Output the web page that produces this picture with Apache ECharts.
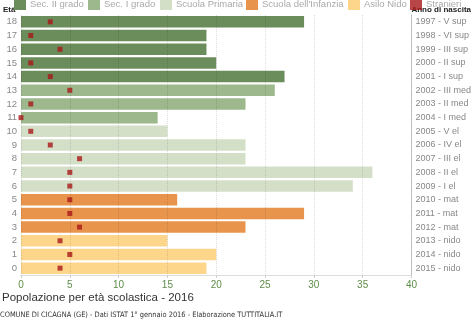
<!DOCTYPE html>
<html><head><meta charset="utf-8">
<script src="https://cdn.jsdelivr.net/npm/echarts@6/dist/echarts.min.js"></script>
<style>html,body{margin:0;padding:0;background:#fff}#c{width:474px;height:326px}</style>
</head><body><div id="c"></div>
<script>
const ages = ['0','1','2','3','4','5','6','7','8','9','10','11','12','13','14','15','16','17','18'];
const birthLabels = ['2015 - nido','2014 - nido','2013 - nido','2012 - mat','2011 - mat','2010 - mat','2009 - I el','2008 - II el','2007 - III el','2006 - IV el','2005 - V el','2004 - I med','2003 - II med','2002 - III med','2001 - I sup','2000 - II sup','1999 - III sup','1998 - VI sup','1997 - V sup'];
const totals = [19,20,15,23,29,16,34,36,23,23,15,14,23,26,27,20,19,19,29];
const stranieri = [4,5,4,6,5,5,5,5,6,3,1,0,1,5,3,1,4,1,3];
const groupNames = ['Sec. II grado','Sec. I grado','Scuola Primaria',"Scuola dell'Infanzia",'Asilo Nido'];
const groupAges = [[14,18],[11,13],[6,10],[3,5],[0,2]];
const groupColors = ['#6b8c5b','#9db88c','#d4dfc8','#e9944d','#fdd68c'];
const strColor = '#a81818';

const font = 'Liberation Sans, Arial, sans-serif';
const narrow = '"Liberation Sans Narrow", "Arial Narrow", "DejaVu Sans Condensed", sans-serif';
const series = groupNames.map((n,gi)=>({
  name:n, type:'bar', stack:'tot', barCategoryGap:'16%',
  itemStyle:{color:groupColors[gi]},
  data: totals.map((v,i)=> (i>=groupAges[gi][0] && i<=groupAges[gi][1]) ? v : null),
  z:2
}));
series.push({name:'Stranieri', type:'scatter', symbol:'rect', symbolSize:5,
  itemStyle:{color:strColor}, data: stranieri.map((v,i)=>[v,i]), z:5});

const legendPos = [14,88,160,246,348,410];
const allNames = groupNames.concat(['Stranieri']);
const legends = allNames.map((n,i)=>({
  data:[n], left:legendPos[i], top:-2, itemWidth:12, itemHeight:12, itemGap:0,
  icon:'rect', textStyle:{color:'#aaa', fontSize:9.5, fontFamily:font, padding:[0,0,0,-1]}, padding:0, selectedMode:false
}));

const chart = echarts.init(document.getElementById('c'), null, {renderer:'canvas'});
chart.setOption({
  animation:false,
  legend: legends,
  grid:{left:21, right:59, top:15, height:260},
  xAxis:{type:'value', min:0, max:40, interval:5, z:3,
    axisLine:{show:true, lineStyle:{color:'#ddd'}},
    axisTick:{show:true, length:3, lineStyle:{color:'#ccc'}},
    axisLabel:{color:'#5e8c4a', fontSize:10, fontFamily:font, margin:5},
    splitLine:{show:true, lineStyle:{color:'rgba(0,0,0,0.13)', type:'dotted'}}},
  yAxis:[
    {type:'category', data:ages, position:'left',
      axisLine:{show:false}, axisTick:{show:false},
      axisLabel:{color:'#888', fontSize:9.5, fontFamily:font, margin:4, interval:0},
      name:'Età', nameLocation:'end', nameGap:0,
      nameTextStyle:{color:'#222', fontSize:8, fontWeight:'bold', fontFamily:font, align:'left', verticalAlign:'bottom', padding:[0,0,1,-18]}},
    {type:'category', data:birthLabels, position:'right',
      axisLine:{show:true, lineStyle:{color:'#ccc'}}, axisTick:{show:false},
      axisLabel:{color:'#888', fontSize:9, fontFamily:font, margin:4, interval:0},
      name:'Anno di nascita', nameLocation:'end', nameGap:0,
      nameTextStyle:{color:'#222', fontSize:8, fontWeight:'bold', fontFamily:font, align:'left', verticalAlign:'bottom', padding:[0,0,1,0]}}
  ],
  title:[
    {text:'Popolazione per età scolastica - 2016', left:2, top:292, padding:0,
      textStyle:{color:'#333', fontSize:11.5, fontWeight:'normal', fontFamily:font}},
    {text:'COMUNE DI CICAGNA (GE) - Dati ISTAT 1° gennaio 2016 - Elaborazione TUTTITALIA.IT', left:0, top:312, padding:0,
      textStyle:{color:'#333', fontSize:7.4, fontWeight:'normal', fontFamily:narrow}}
  ],
  series: series
});
</script></body></html>
